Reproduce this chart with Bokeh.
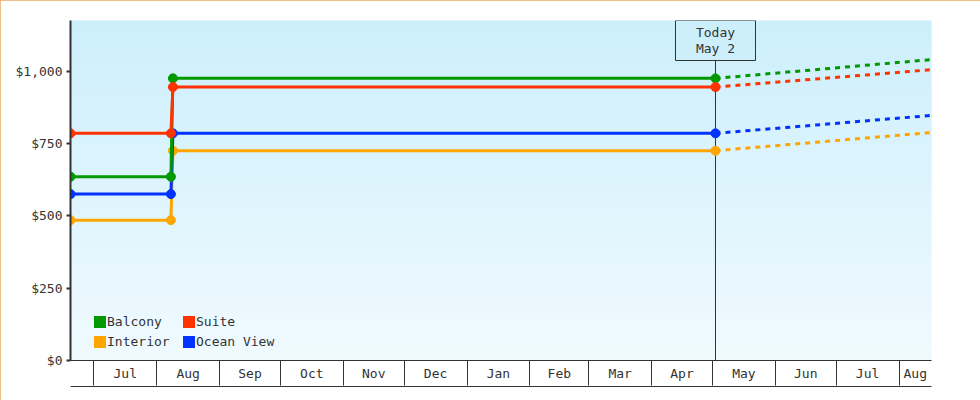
import numpy as np
import pandas as pd
from bokeh.plotting import figure
from bokeh.models import (Range1d, FixedTicker, DatetimeAxis, NumeralTickFormatter,
                          Legend, LegendItem, Span, BoxAnnotation, Label, DatetimeTickFormatter)
from bokeh.embed import file_html
from bokeh.resources import INLINE

# ---------------- data ----------------
series_names = ["Balcony", "Suite", "Interior", "Ocean View"]
series_colors = ["#009900", "#FF3300", "#FFA500", "#0033FF"]
price_dates = ["2023-06-19 12:00", "2023-08-08 00:00", "2023-08-09 00:00", "2024-05-02 12:00"]
forecast_dates = ["2024-05-02 12:00", "2024-08-17 00:00"]
balcony = [635, 635, 975, 975]
balcony_forecast = [975, 1040]
suite = [785, 785, 945, 945]
suite_forecast = [945, 1005]
interior = [485, 485, 725, 725]
interior_forecast = [725, 788]
ocean_view = [575, 575, 785, 785]
ocean_view_forecast = [785, 847]
month_labels = ["Jul", "Aug", "Sep", "Oct", "Nov", "Dec", "Jan", "Feb",
                "Mar", "Apr", "May", "Jun", "Jul", "Aug"]
y_ticks = [0, 250, 500, 750, 1000]
today_date = "2024-05-02 12:00"
today_text = ["Today", "May 2"]

FONT = "DejaVu Sans Mono"
TXT = "#333333"

def ms(t):
    return pd.Timestamp(t).value / 1e6

x_start = ms("2023-06-19 12:00")
x_end = ms("2024-08-17")
y_end = 1175

frame_h = 340
p = figure(width=980, height=400, x_axis_type="datetime",
           x_range=Range1d(x_start, x_end), y_range=Range1d(0, y_end),
           output_backend="svg", toolbar_location=None,
           min_border_left=70, min_border_right=49, min_border_top=20, min_border_bottom=40,
           background_fill_color="white", border_fill_color="white", outline_line_color=None)
p.styles = {"outline": "1px solid #E8A860", "outline-offset": "-1px"}
p.xgrid.grid_line_color = None
p.ygrid.grid_line_color = None

# gradient background (derived from ranges)
N = 60
edges = np.linspace(0, y_end, N + 1)
top_c = np.array([204, 239, 252])
bot_c = np.array([240, 250, 254])
cols = []
for i in range(N):
    t = (edges[i] + edges[i + 1]) / 2 / y_end
    c = (bot_c + (top_c - bot_c) * t).round().astype(int)
    cols.append("#%02x%02x%02x" % tuple(c))
p.quad(left=x_start, right=x_end, bottom=edges[:-1], top=edges[1:],
       fill_color=cols, line_color=cols, line_width=1, level="image")

# today marker
today_ms = ms(today_date)
p.add_layout(Span(location=today_ms, dimension="height", line_color=TXT, line_width=1, level="underlay"))
half_w_days = 40 / 2.0283
box = BoxAnnotation(left=today_ms - half_w_days * 86400000, right=today_ms + half_w_days * 86400000,
                    bottom=y_end * (1 - 40 / frame_h), top=y_end,
                    fill_color="#cdeffc", fill_alpha=1.0, line_color=TXT, line_alpha=1.0,
                    line_width=1, level="underlay")
p.add_layout(box)
for i, txt in enumerate(today_text):
    p.add_layout(Label(x=today_ms, y=y_end * (1 - (12 + 16 * i) / frame_h), text=txt,
                       text_align="center", text_baseline="middle", text_font=FONT,
                       text_font_size="13px", text_color=TXT))

# series
pd_dates = pd.to_datetime(price_dates, format="%Y-%m-%d %H:%M")
fc_dates = pd.to_datetime(forecast_dates, format="%Y-%m-%d %H:%M")
data = {"Balcony": (balcony, balcony_forecast), "Suite": (suite, suite_forecast),
        "Interior": (interior, interior_forecast), "Ocean View": (ocean_view, ocean_view_forecast)}
color_of = dict(zip(series_names, series_colors))
for name in ["Interior", "Ocean View", "Balcony", "Suite"]:
    vals, fc = data[name]
    c = color_of[name]
    p.line(fc_dates, fc, line_color=c, line_width=3, line_dash="5 5")
    p.line(pd_dates, vals, line_color=c, line_width=3)
    p.scatter(pd_dates, vals, marker="circle", size=9, fill_color=c, line_color=c)

# legend (square swatches)
items = []
for name in series_names:
    r = p.quad(left=[x_start], right=[x_start], bottom=[np.nan], top=[np.nan],
               fill_color=color_of[name], line_color=None)
    items.append(LegendItem(label=name, renderers=[r]))
legend = Legend(items=items, location=(22, 11), orientation="horizontal", ncols=2,
                glyph_width=15, glyph_height=15, label_standoff=0, spacing=4, padding=0, margin=0,
                label_text_font=FONT, label_text_font_size="13px", label_text_color=TXT,
                label_width=70, label_height=16,
                background_fill_alpha=0, border_line_color=None)
p.add_layout(legend, "center")

# y axis
ya = p.yaxis[0]
ya.ticker = FixedTicker(ticks=y_ticks)
ya.formatter = NumeralTickFormatter(format="$0,0")
ya.axis_line_color = TXT
ya.axis_line_width = 2
ya.major_tick_out = 4
ya.major_tick_in = 0
ya.major_tick_line_color = TXT
ya.major_tick_line_width = 2
ya.minor_tick_line_color = None
ya.major_label_text_font = FONT
ya.major_label_text_font_size = "13px"
ya.major_label_text_color = TXT
ya.major_label_standoff = 4

# x axis: month boxes
bounds = pd.date_range("2023-07-01", "2024-08-01", freq="MS")
bounds_ms = [ms(b) for b in bounds]
edges_x = bounds_ms + [x_end]
mids = [(edges_x[i] + edges_x[i + 1]) / 2 for i in range(len(edges_x) - 1)]
xa = p.xaxis[0]
xa.ticker = FixedTicker(ticks=mids, minor_ticks=bounds_ms)
xa.formatter = DatetimeTickFormatter(days="%b", months="%b", years="%b")
xa.major_label_overrides = {m: lab for m, lab in zip(mids, month_labels)}
xa.major_tick_out = 0
xa.major_tick_in = 0
xa.minor_tick_out = 25
xa.minor_tick_in = 0
xa.minor_tick_line_color = TXT
xa.axis_line_color = TXT
xa.major_label_standoff = -20
xa.major_label_text_font = FONT
xa.major_label_text_font_size = "13px"
xa.major_label_text_color = TXT
xa.axis_label = " "
xa.axis_label_text_font_size = "2px"
xa.axis_label_standoff = -2

xb = DatetimeAxis(ticker=FixedTicker(ticks=[mids[0]]), axis_line_color=TXT,
                  major_tick_line_color=None, minor_tick_line_color=None,
                  major_tick_out=0, major_tick_in=0, major_label_standoff=0,
                  major_label_overrides={mids[0]: ""},
                  major_label_text_font_size="0px")
p.add_layout(xb, "below")

open("out.html", "w").write(file_html(p, INLINE))
